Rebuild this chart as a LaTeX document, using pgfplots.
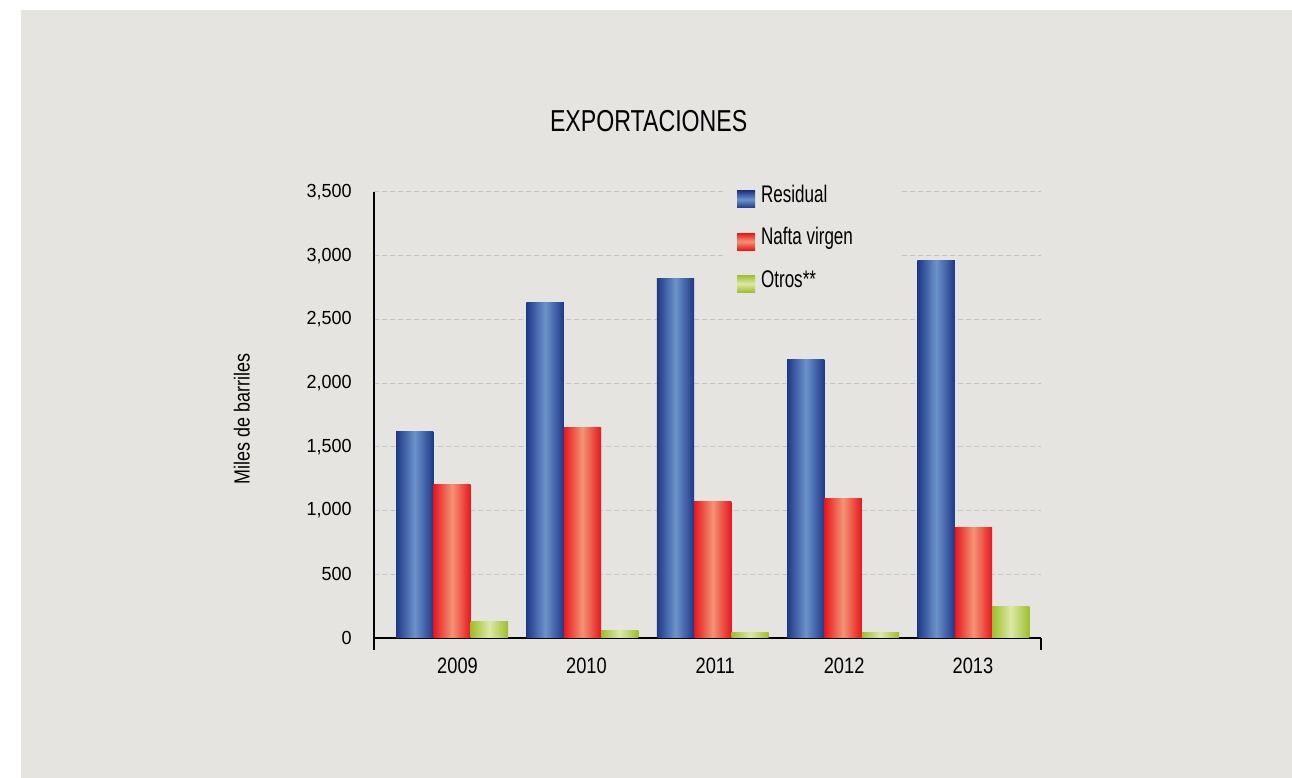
\documentclass[border=0pt]{standalone}
\usepackage{pgfplots}
\pgfplotsset{compat=1.18}
\usepackage{fontspec}
\setmainfont{Liberation Sans}
\newfontfamily\titlefont[FakeStretch=0.765]{Liberation Sans}
\newfontfamily\legfont[FakeStretch=0.71]{Liberation Sans}
\newfontfamily\xfont[FakeStretch=0.82]{Liberation Sans}
\newfontfamily\yfont[FakeStretch=0.95]{Liberation Sans}

\definecolor{bg}{RGB}{229,228,224}
\definecolor{gridc}{RGB}{196,196,196}
\definecolor{bluedark}{RGB}{30,56,136}
\definecolor{bluelight}{RGB}{108,147,203}
\definecolor{reddark}{RGB}{232,22,30}
\definecolor{redlight}{RGB}{243,148,115}
\definecolor{greendark}{RGB}{158,190,44}
\definecolor{greenlight}{RGB}{220,232,168}

% one \addplot per bar, so that every bar gets its own shading
\pgfplotsset{
    resbar/.style={draw=none, forget plot, bar shift=-27.98pt,
        left color=bluedark, right color=bluedark, middle color=bluelight},
    nafbar/.style={draw=none, forget plot, bar shift=0pt,
        left color=reddark, right color=reddark, middle color=redlight},
    otrbar/.style={draw=none, forget plot, bar shift=27.98pt,
        left color=greendark, right color=greendark, middle color=greenlight},
}

\begin{document}
\begin{tikzpicture}
\fill[white] (0,0) rectangle (969pt,583.5pt);
\fill[bg] (15.75pt,0) rectangle (969pt,576pt);
\useasboundingbox (0,0) rectangle (969pt,583.5pt);
\begin{axis}[
    at={(280.5pt,105pt)}, anchor=south west,
    scale only axis, width=500.6pt, height=334.5pt,
    xmin=-0.599, xmax=4.522, ymin=0, ymax=3500,
    axis x line=bottom, axis y line=left,
    axis line style={-, line width=1.5pt, black},
    ybar, bar width=27.98pt,
    xtick={0.042,1.031,2.019,3.008,3.996},
    xticklabels={2009,2010,2011,2012,2013},
    xtick style={draw=none},
    extra x ticks={-0.599,4.522}, extra x tick labels={},
    extra x tick style={xtick style={draw=black, line width=1.5pt}},
    major tick length=9pt, tick align=outside,
    ytick={0,500,...,3500}, ytick style={draw=none},
    /pgf/number format/.cd, 1000 sep={,}, assume math mode=true, /pgfplots/.cd,
    x tick label style={font=\xfont\fontsize{16.7}{20}\selectfont, anchor=north, inner sep=0pt, yshift=-5.5pt},
    y tick label style={font=\yfont\fontsize{14.2}{17}\selectfont, anchor=east, inner sep=0pt, xshift=-7.5pt},
    ymajorgrids,
    major grid style={gridc, line width=0.75pt, dash pattern=on 3.75pt off 2.25pt},
    title={EXPORTACIONES},
    title style={at={(axis description cs:0.4115,1.1173)}, anchor=base, inner sep=0pt, yshift=0pt,
        font=\titlefont\fontsize{22.7}{27}\selectfont},
    ylabel={Miles de barriles},
    ylabel style={at={(axis description cs:-0.1858,0.491)}, anchor=south, inner sep=0pt,
        font=\xfont\fontsize{16.4}{20}\selectfont},
    legend style={at={(0.526,1.021)}, anchor=north west, fill=bg, draw=none,
        font=\legfont\fontsize{18}{21}\selectfont,
        inner xsep=8.8pt, inner ysep=6pt, row sep=18.8pt,
        nodes={inner ysep=0pt, text height=0.72em, text depth=0.22em},
        /tikz/every odd column/.append style={column sep=2.5pt}},
    legend cell align=left,
]
% Residual
\addplot[resbar] coordinates {(0,1617)};
\addplot[resbar] coordinates {(1,2630)};
\addplot[resbar] coordinates {(2,2818)};
\addplot[resbar] coordinates {(3,2182)};
\addplot[resbar] coordinates {(4,2959)};
% Nafta virgen
\addplot[nafbar] coordinates {(0,1201)};
\addplot[nafbar] coordinates {(1,1648)};
\addplot[nafbar] coordinates {(2,1075)};
\addplot[nafbar] coordinates {(3,1091)};
\addplot[nafbar] coordinates {(4,871)};
% Otros
\addplot[otrbar] coordinates {(0,133)};
\addplot[otrbar] coordinates {(1,55)};
\addplot[otrbar] coordinates {(2,40)};
\addplot[otrbar] coordinates {(3,40)};
\addplot[otrbar] coordinates {(4,251)};

\addlegendimage{legend image code/.code={\path[draw=none, top color=bluedark, bottom color=bluedark, middle color=bluelight] (0pt,-6.4pt) rectangle (13.5pt,6.4pt);}}
\addlegendentry{Residual}
\addlegendimage{legend image code/.code={\path[draw=none, top color=reddark, bottom color=reddark, middle color=redlight] (0pt,-6.4pt) rectangle (13.5pt,6.4pt);}}
\addlegendentry{\makebox[93.5pt][l]{Nafta virgen}}
\addlegendimage{legend image code/.code={\path[draw=none, top color=greendark, bottom color=greendark, middle color=greenlight] (0pt,-6.4pt) rectangle (13.5pt,6.4pt);}}
\addlegendentry{Otros**}
\end{axis}
\end{tikzpicture}
\end{document}
